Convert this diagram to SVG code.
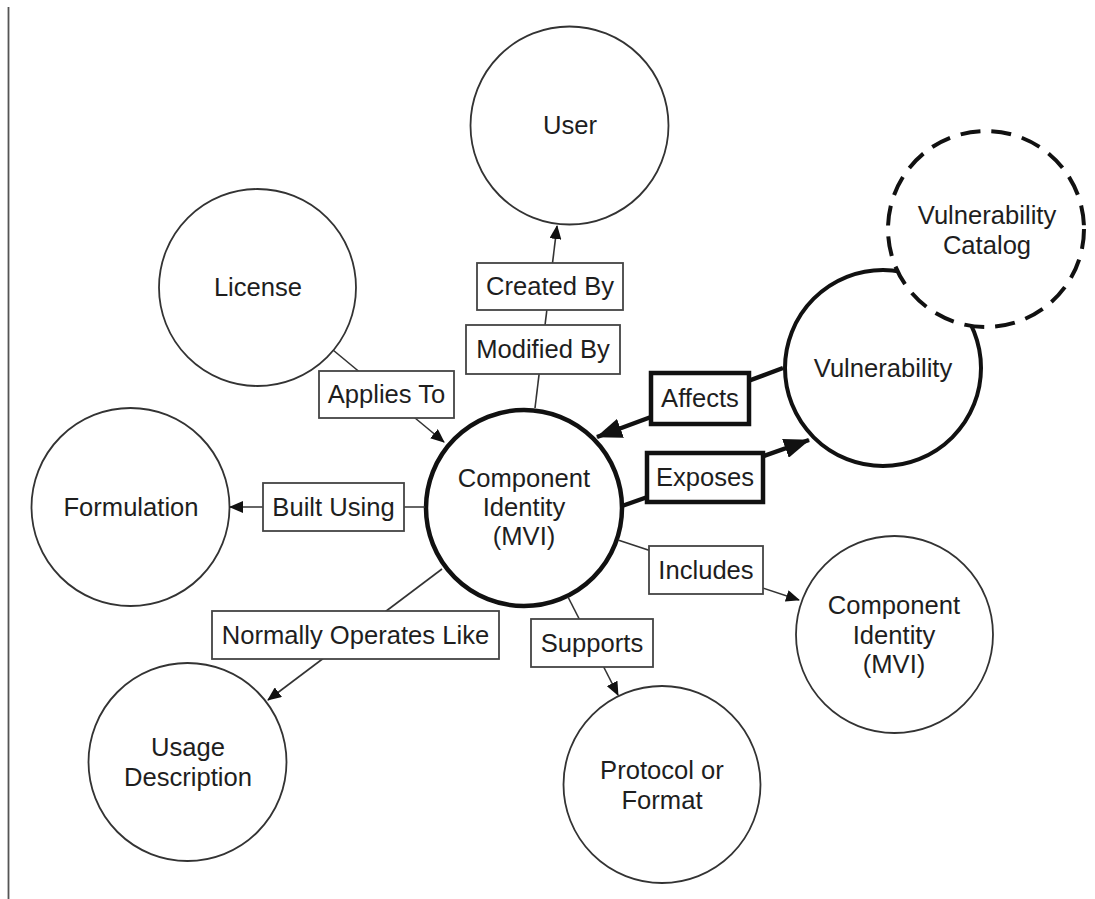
<svg xmlns="http://www.w3.org/2000/svg" width="1095" height="899" viewBox="0 0 1095 899">
<style>
text{font-family:"Liberation Sans",Arial,Helvetica,sans-serif;font-size:25.6px;fill:#1e1e1e;text-anchor:middle}
.n{fill:#fff;stroke:#333;stroke-width:1.8}
.nb{fill:#fff;stroke:#111;stroke-width:4.5}
.nd{fill:#fff;stroke:#111;stroke-width:4;stroke-dasharray:20 11.1}
.c{fill:none;stroke:#333;stroke-width:1.6}
.cb{fill:none;stroke:#111;stroke-width:4.5}
.b{fill:#fff;stroke:#444;stroke-width:1.8}
.bb{fill:#fff;stroke:#111;stroke-width:4.5}
</style>
<defs>
<marker id="a" markerUnits="userSpaceOnUse" markerWidth="14" markerHeight="12" viewBox="0 0 14 12" refX="13" refY="6" orient="auto">
<path d="M0,0 L14,6 L0,12 Z" fill="#111"/>
</marker>
<marker id="ab" markerUnits="userSpaceOnUse" markerWidth="26" markerHeight="20" viewBox="0 0 26 20" refX="25" refY="10" orient="auto">
<path d="M0,0 L26,10 L0,20 Z" fill="#111"/>
</marker>
</defs>
<rect width="1095" height="899" fill="#fff"/>
<line x1="8.5" y1="7" x2="8.5" y2="899" stroke="#555" stroke-width="1.8"/>

<g id="node-user"><circle class="n" cx="569.5" cy="125.5" r="99"/><text x="570" y="134">User</text></g>
<g id="node-license"><circle class="n" cx="257.5" cy="287.5" r="98.5"/><text x="258" y="296">License</text></g>
<g id="node-formulation"><circle class="n" cx="130.5" cy="507" r="99"/><text x="131" y="516">Formulation</text></g>
<g id="node-vulnerability"><circle class="nb" cx="883" cy="368" r="98" style="stroke-width:4"/><text x="883" y="377">Vulnerability</text></g>
<g id="node-vulnerability-catalog"><circle class="nd" cx="986" cy="229" r="98"/><text x="987" y="224">Vulnerability</text><text x="987" y="254">Catalog</text></g>
<g id="node-component-identity-main"><circle class="nb" cx="524" cy="508" r="98"/><text x="524" y="487">Component</text><text x="524" y="516">Identity</text><text x="524" y="545">(MVI)</text></g>
<g id="node-component-identity-included"><circle class="n" cx="894.5" cy="634.5" r="98.5"/><text x="894" y="614">Component</text><text x="894" y="644">Identity</text><text x="894" y="673">(MVI)</text></g>
<g id="node-usage-description"><circle class="n" cx="187.5" cy="762" r="99"/><text x="188" y="756">Usage</text><text x="188" y="786">Description</text></g>
<g id="node-protocol-format"><circle class="n" cx="662" cy="784.5" r="98.5"/><text x="662" y="779">Protocol or</text><text x="662" y="809">Format</text></g>

<g id="connectors">
<line class="c" x1="535" y1="408" x2="557" y2="226" marker-end="url(#a)"/>
<line class="c" x1="333" y1="350" x2="444" y2="442" marker-end="url(#a)"/>
<line class="c" x1="425" y1="507" x2="230" y2="507" marker-end="url(#a)"/>
<line class="c" x1="442" y1="569" x2="268" y2="700" marker-end="url(#a)"/>
<line class="c" x1="568" y1="597" x2="618" y2="695" marker-end="url(#a)"/>
<line class="c" x1="618" y1="540" x2="799" y2="600" marker-end="url(#a)"/>
<line class="cb" x1="783" y1="368" x2="597" y2="437" marker-end="url(#ab)"/>
<line class="cb" x1="622" y1="506" x2="809" y2="440" marker-end="url(#ab)"/>

<rect class="b" x="477" y="263" width="146" height="47"/><text x="550" y="295">Created By</text>
<rect class="b" x="466" y="325" width="154" height="49"/><text x="543" y="358">Modified By</text>
<rect class="b" x="319" y="371" width="135" height="47"/><text x="386.5" y="403">Applies To</text>
<rect class="b" x="263" y="483" width="141" height="48"/><text x="333.5" y="516">Built Using</text>
<rect class="bb" x="651" y="373" width="98" height="51"/><text x="700" y="407">Affects</text>
<rect class="bb" x="647" y="453" width="116" height="49"/><text x="705" y="486">Exposes</text>
<rect class="b" x="649" y="546" width="114" height="48"/><text x="706" y="579">Includes</text>
<rect class="b" x="212" y="611" width="287" height="48"/><text x="355.5" y="644">Normally Operates Like</text>
<rect class="b" x="531" y="619" width="122" height="48"/><text x="592" y="652">Supports</text>
</g>
</svg>
